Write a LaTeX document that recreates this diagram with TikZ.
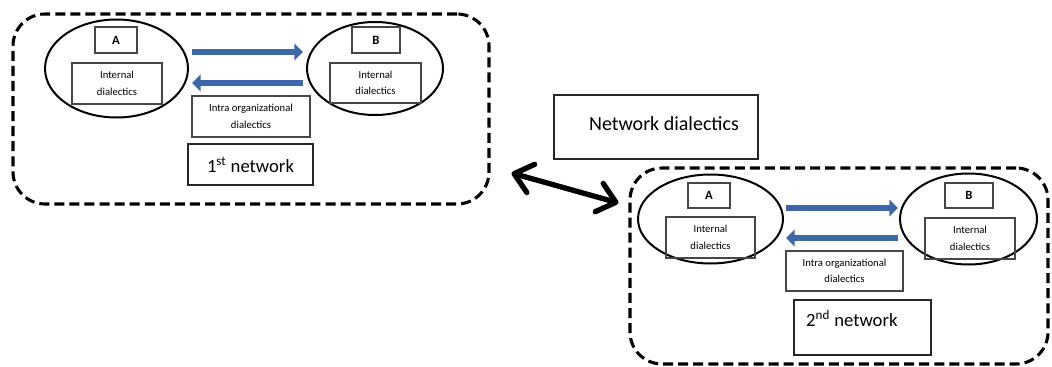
\documentclass[tikz,border=0pt]{standalone}
\usepackage{fontspec}
\setmainfont{Carlito}
\usetikzlibrary{arrows.meta,calc,shapes.geometric}

\definecolor{arrowblue}{RGB}{62,103,168}
\definecolor{boxline}{RGB}{70,70,70}

\begin{document}
\begin{tikzpicture}[x=0.75pt,y=-0.75pt,
  sz/.style 2 args={minimum width=#1*0.75pt,minimum height=#2*0.75pt},
  network/.style={draw=black,line width=2.3pt,dash pattern=on 7.5pt off 3.8pt,
    rounded corners=24pt,inner sep=0pt},
  actor/.style={draw=black,line width=1.5pt,ellipse,inner sep=0pt},
  tagbox/.style={draw=boxline,line width=0.8pt,inner sep=0pt,
    font=\fontsize{9.5}{11}\selectfont\bfseries},
  textbox/.style={draw=boxline,line width=0.8pt,inner sep=0pt,align=center,
    font=\fontsize{8}{12.5}\selectfont},
  titlebox/.style={draw=black!85,line width=0.9pt,inner sep=0pt,
    font=\fontsize{14}{16}\selectfont},
  flow/.style={draw=arrowblue,line width=4.6pt,
    -{Triangle[length=6.5pt,width=12.5pt]}},
  exchange/.style={draw=black,line width=4pt,
    {Straight Barb[length=13pt,width=22pt,round]}-{Straight Barb[length=13pt,width=22pt,round]}}
]
\useasboundingbox (0,0) rectangle (1052,367);

% ---------- first network ----------
\node[network,sz={476}{190}] (net1) at (251,109) {};
\node[actor,sz={143}{98}] (e1a) at (116.5,68.5) {};
\node[actor,sz={136}{93}] (e1b) at (375,68.5) {};
\node[tagbox,sz={42}{26}] (a1) at (116,40) {A};
\node[tagbox,sz={48}{26}] (b1) at (376,40) {B};
\node[textbox,sz={90}{41}] (ia1) at (117,83.5) {Internal\\dialectics};
\node[textbox,sz={91}{40}] (ib1) at (375.5,83) {Internal\\dialectics};
\node[textbox,sz={118}{41}] (io1) at (251,116.5) {Intra organizational\\dialectics};
\node[titlebox,sz={125}{41}] (t1) at (250.5,164.5) {1\textsuperscript{st} network};
\draw[flow] ($(e1a.east)+(3,-16.5)$) -- ($(e1b.west)+(-3,-16.5)$);
\draw[flow] ($(e1b.west)+(-3,14.5)$) -- ($(e1a.east)+(3,14.5)$);

% ---------- network level ----------
\node[draw=black!85,line width=0.9pt,sz={204}{64},inner sep=0pt,
  font=\fontsize{15}{17}\selectfont,text height=10pt,text depth=5pt]
  (nd) at (656,127) {\hspace*{12pt}Network dialectics};

% ---------- second network ----------
\node[network,sz={418}{196}] (net2) at (839,266) {};
\node[actor,sz={145}{89}] (e2a) at (710.5,219) {};
\node[actor,sz={137}{91}] (e2b) at (968.5,219) {};
\node[tagbox,sz={42}{25}] (a2) at (709,195.5) {A};
\node[tagbox,sz={48}{25}] (b2) at (969,195.5) {B};
\node[textbox,sz={89}{41}] (ia2) at (710.5,237.5) {Internal\\dialectics};
\node[textbox,sz={90}{41}] (ib2) at (970,238.5) {Internal\\dialectics};
\node[textbox,sz={117}{40}] (io2) at (844.5,271) {Intra organizational\\dialectics};
\node[titlebox,sz={137}{55},text height=9pt,text depth=11pt] (t2) at (862.5,327.5)
  {2\textsuperscript{nd} network\hspace*{16pt}};
\draw[flow] ($(e2a.east)+(2,-11)$) -- ($(e2b.west)+(-1,-11)$);
\draw[flow] ($(e2b.west)+(-1,19)$) -- ($(e2a.east)+(2,19)$);

% ---------- link between the two networks ----------
\draw[exchange] ([shift={(21,64)}]net1.east) -- ([shift={(-10,-63)}]net2.west);
\end{tikzpicture}
\end{document}
